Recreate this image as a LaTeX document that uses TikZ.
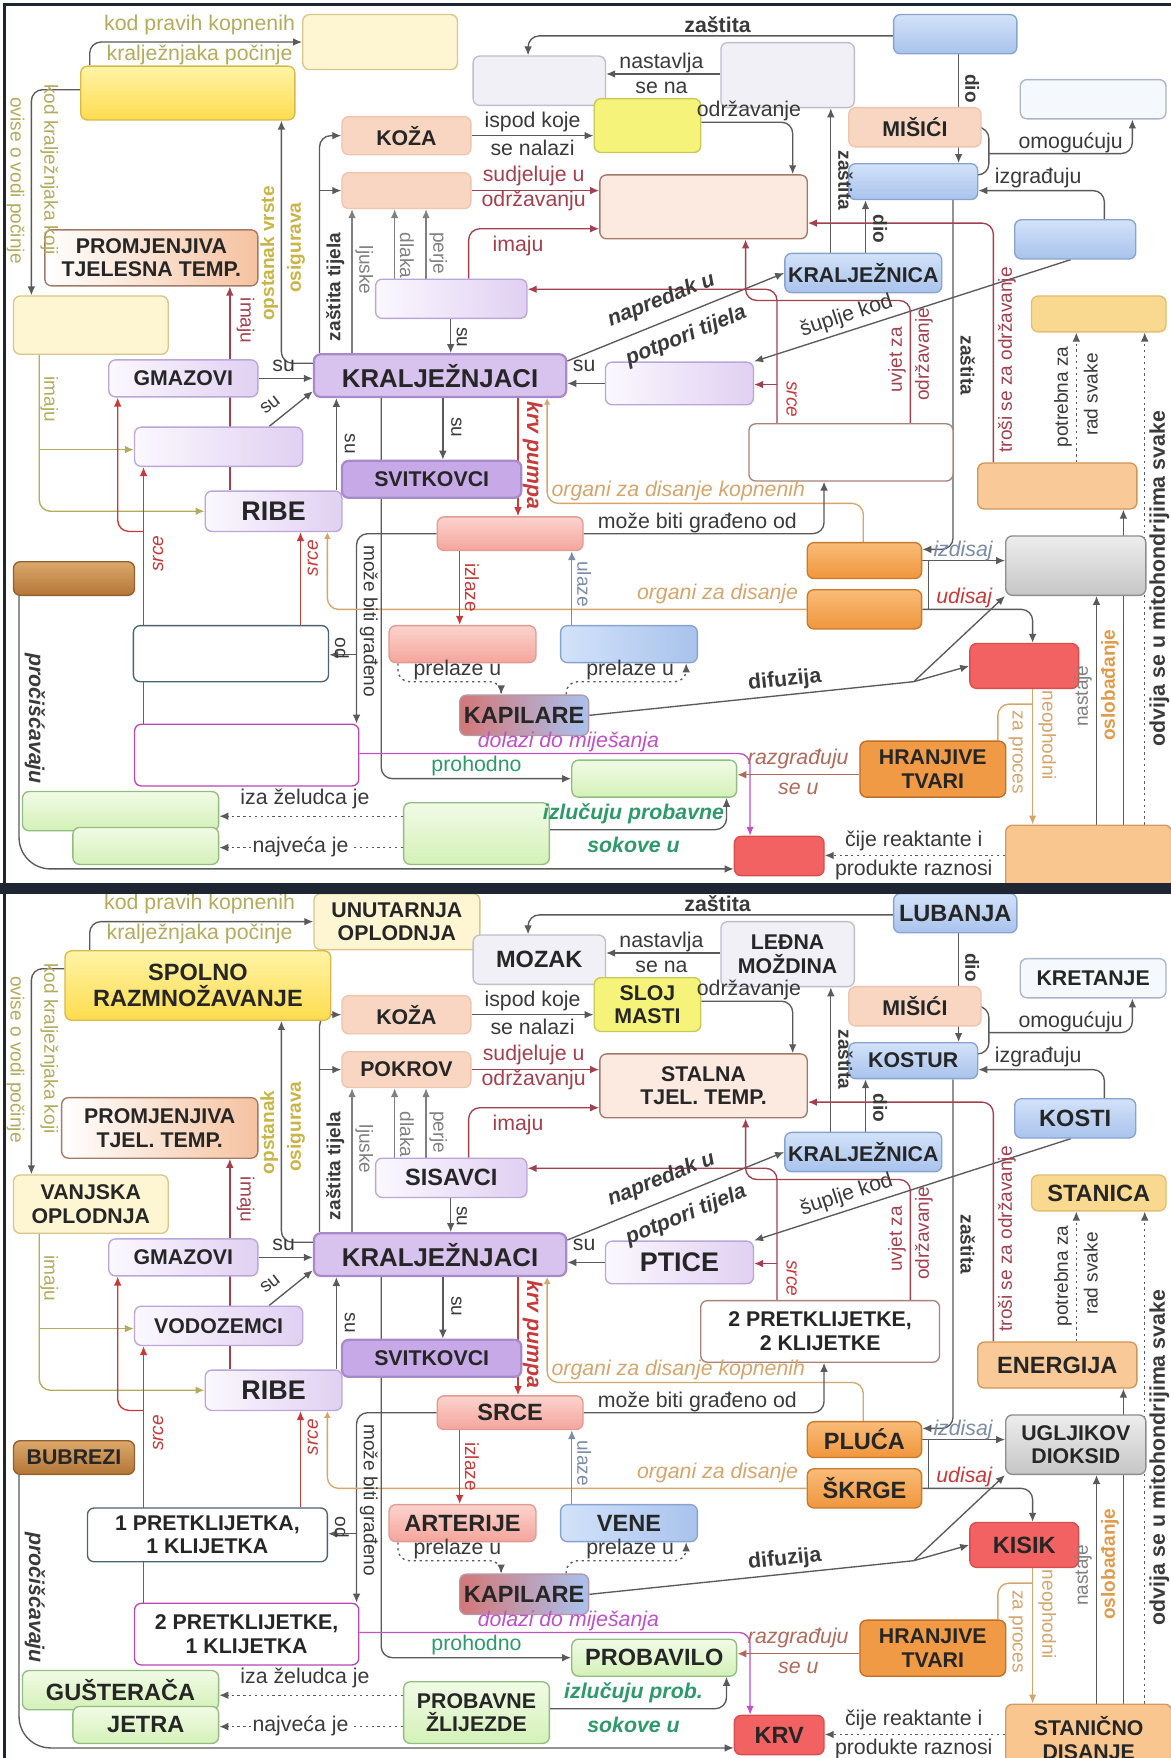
\documentclass[tikz,border=0pt]{standalone}
\usepackage{fontspec}
\setmainfont{Liberation Sans}
\usetikzlibrary{arrows.meta}

\definecolor{lineg}{HTML}{5A5A5A}
\definecolor{txt}{HTML}{3A3A3A}
\definecolor{olv}{HTML}{B5AB5C}
\definecolor{olvb}{HTML}{C9B446}
\definecolor{dred}{HTML}{A3404E}
\definecolor{rd}{HTML}{C83A3A}
\definecolor{tanl}{HTML}{D4A66E}
\definecolor{mag}{HTML}{C050C8}
\definecolor{grn}{HTML}{2E9A6A}
\definecolor{bgr}{HTML}{7A8CA8}
\definecolor{brn}{HTML}{B06A5A}
\definecolor{orn}{HTML}{E09A48}
\definecolor{frm}{HTML}{1E2633}
\definecolor{yelA}{HTML}{FFF4A6}
\definecolor{yelB}{HTML}{FDDC4E}
\definecolor{yelD}{HTML}{D9B84C}
\definecolor{ltyel}{HTML}{FEF5D2}
\definecolor{ltyelD}{HTML}{D8C68A}
\definecolor{lavA}{HTML}{FBF8FE}
\definecolor{lavB}{HTML}{E1D0F2}
\definecolor{lavD}{HTML}{BBA6D8}
\definecolor{purA}{HTML}{D8C3EF}
\definecolor{purB}{HTML}{C6A9E6}
\definecolor{purD}{HTML}{A88ACB}
\definecolor{grl}{HTML}{F0F0F6}
\definecolor{grlD}{HTML}{BEBECD}
\definecolor{bluA}{HTML}{D2E2F9}
\definecolor{bluB}{HTML}{A9C3EC}
\definecolor{bluD}{HTML}{88A3CF}
\definecolor{ltblu}{HTML}{F5F8FC}
\definecolor{ltbluD}{HTML}{AAB5C8}
\definecolor{pch}{HTML}{F8D6C2}
\definecolor{pchD}{HTML}{EDC5AE}
\definecolor{stl}{HTML}{FCEAE0}
\definecolor{stlD}{HTML}{A37A6A}
\definecolor{prmB}{HTML}{F5C2A0}
\definecolor{slj}{HTML}{F6F37A}
\definecolor{sljD}{HTML}{C9C956}
\definecolor{stc}{HTML}{F9D98F}
\definecolor{stcD}{HTML}{E4BE70}
\definecolor{slateD}{HTML}{4E6272}
\definecolor{magD}{HTML}{B848B8}
\definecolor{brnD}{HTML}{A88478}
\definecolor{enr}{HTML}{F9C997}
\definecolor{enrD}{HTML}{D49558}
\definecolor{pnkA}{HTML}{FBD3CD}
\definecolor{pnkB}{HTML}{F4A59C}
\definecolor{pnkD}{HTML}{E29B92}
\definecolor{orA}{HTML}{F9BC78}
\definecolor{orB}{HTML}{F0963C}
\definecolor{orD}{HTML}{C97A2C}
\definecolor{gyA}{HTML}{EDEDED}
\definecolor{gyB}{HTML}{C6C6C6}
\definecolor{gyD}{HTML}{8E8E8E}
\definecolor{buA}{HTML}{DCA86C}
\definecolor{buB}{HTML}{B37636}
\definecolor{buD}{HTML}{946030}
\definecolor{red1}{HTML}{F26262}
\definecolor{redD}{HTML}{DA4D4D}
\definecolor{kapA}{HTML}{D47676}
\definecolor{kapB}{HTML}{A9C2EF}
\definecolor{kapD}{HTML}{B49AA8}
\definecolor{grA}{HTML}{F1FBE6}
\definecolor{grB}{HTML}{D4F1B8}
\definecolor{grD}{HTML}{93BD80}
\definecolor{hrn}{HTML}{F19A46}
\definecolor{hrnD}{HTML}{BF6E2A}
\definecolor{scn}{HTML}{FAC68F}
\definecolor{scnD}{HTML}{D49B60}

\pgfdeclarelayer{bg}
\pgfsetlayers{bg,main}

\newif\ifemptymap
\newcommand\ans[1]{\ifemptymap\else#1\fi}
\newcommand\twoways[2]{\ifemptymap#1\else#2\fi}

\tikzset{
  bx/.style={rounded corners=3pt, line width=0.6pt, inner sep=1pt, align=center, text=black!85,
    font=\bfseries\fontsize{9.5}{10.5}\selectfont},
  big/.style={font=\bfseries\fontsize{10.5}{11.5}\selectfont},
  bigger/.style={font=\bfseries\fontsize{12}{13}\selectfont},
  bw/.style={minimum width=#1*0.5pt},
  bh/.style={minimum height=#1*0.5pt},
  yelbox/.style={bx, top color=yelA, bottom color=yelB, draw=yelD},
  lyelbox/.style={bx, fill=ltyel, draw=ltyelD},
  lavbox/.style={bx, left color=lavA, right color=lavB, draw=lavD},
  purbox/.style={bx, fill=purA, draw=purD, line width=1pt},
  pur2box/.style={bx, fill=purB, draw=purD, line width=1pt},
  grlbox/.style={bx, fill=grl, draw=grlD},
  blubox/.style={bx, top color=bluA, bottom color=bluB, draw=bluD},
  vnbox/.style={bx, left color=bluA, right color=bluB, draw=bluD},
  ltblubox/.style={bx, fill=ltblu, draw=ltbluD},
  pchbox/.style={bx, fill=pch, draw=pchD},
  stlbox/.style={bx, fill=stl, draw=stlD},
  prmbox/.style={bx, left color=white, right color=prmB, draw=stlD},
  sljbox/.style={bx, fill=slj, draw=sljD},
  stcbox/.style={bx, fill=stc, draw=stcD},
  brnbox/.style={bx, fill=white, draw=brnD},
  slbox/.style={bx, fill=white, draw=slateD},
  magbox/.style={bx, fill=white, draw=magD},
  enrbox/.style={bx, fill=enr, draw=enrD},
  pnkbox/.style={bx, top color=pnkA, bottom color=pnkB, draw=pnkD},
  orbox/.style={bx, top color=orA, bottom color=orB, draw=orD},
  gybox/.style={bx, top color=gyA, bottom color=gyB, draw=gyD},
  bubox/.style={bx, top color=buA, bottom color=buB, draw=buD},
  redbox/.style={bx, fill=red1, draw=redD},
  kapbox/.style={bx, left color=kapA, right color=kapB, draw=kapD},
  grbox/.style={bx, top color=grA, bottom color=grB, draw=grD},
  hrnbox/.style={bx, fill=hrn, draw=hrnD},
  scnbox/.style={bx, fill=scn, draw=scnD},
  ln/.style={draw=lineg, line width=0.6pt, rounded corners=5pt},
  arr/.style={-{Latex[length=4pt,width=3.4pt]}},
  rarr/.style={{Latex[length=3pt,width=3pt]}-},
  dotln/.style={dash pattern=on 1pt off 1.6pt},
  lb/.style={inner sep=0.5pt, text=txt, font=\fontsize{9.5}{10.5}\selectfont},
  lbi/.style={lb, font=\fontsize{9.5}{10.5}\selectfont\itshape},
  lbb/.style={lb, font=\fontsize{9.5}{10.5}\selectfont\bfseries},
  lbbi/.style={lb, font=\fontsize{9.5}{10.5}\selectfont\bfseries\itshape},
  vl/.style={lb, font=\fontsize{8.5}{9.5}\selectfont},
  vli/.style={lb, font=\fontsize{8.5}{9.5}\selectfont\itshape},
  vlb/.style={lb, font=\fontsize{8.5}{9.5}\selectfont\bfseries},
}

% one concept map; drawn twice (empty and filled in)
\newcommand\conceptmap{%
\ifemptymap
\node[lyelbox, bw=138, bh=49] (unut) at (339,821.5) {};
\node[yelbox, bw=191, bh=48] (spolno) at (167.5,867) {};
\node[prmbox, bw=190, bh=50] (promj) at (135,1014) {PROMJENJIVA\\TJELESNA TEMP.};
\node[brnbox, bw=182, bh=51] (dvadva) at (759,1187.5) {};
\node[slbox, bw=174, bh=50] (jedanjedan) at (206,1367) {};
\else
\node[lyelbox, bw=148, bh=50] (unut) at (354,822) {UNUTARNJA\\OPLODNJA};
\node[yelbox, big, bw=237, bh=62] (spolno) at (176.5,879) {SPOLNO\\RAZMNOŽAVANJE};
\node[prmbox, bw=175, bh=54] (promj) at (142.5,1006) {PROMJENJIVA\\TJEL. TEMP.};
\node[brnbox, bw=213, bh=55] (dvadva) at (731.5,1187.5) {2 PRETKLIJETKE,\\2 KLIJETKE};
\node[slbox, bw=214, bh=48] (jedanjedan) at (185,1369) {1 PRETKLIJETKA,\\1 KLIJETKA};
\fi
\node[grlbox, big, bw=118, bh=44] (mozak) at (481,856) {\ans{MOZAK}};
\node[grlbox, bw=119, bh=58] (ledna) at (702.5,851) {\ans{LEĐNA\\MOŽDINA}};
\node[blubox, big, bw=110, bh=35] (lubanja) at (852,814.5) {\ans{LUBANJA}};
\node[ltblubox, bw=130, bh=35] (kretanje) at (975,872.5) {\ans{KRETANJE}};
\node[pchbox, bw=115, bh=34] (koza) at (362.5,905) {KOŽA};
\node[sljbox, bw=95, bh=48] (sloj) at (577.5,896) {\ans{SLOJ\\MASTI}};
\node[pchbox, bw=118, bh=35] (misici) at (816,897.5) {MIŠIĆI};
\node[pchbox, bw=115, bh=32] (pokrov) at (362.5,954) {\ans{POKROV}};
\node[stlbox, bw=185, bh=57] (stalna) at (627.5,968.5) {\ans{STALNA\\TJEL. TEMP.}};
\node[blubox, bw=115, bh=32] (kostur) at (814.5,946) {\ans{KOSTUR}};
\node[blubox, big, bw=108, bh=35] (kosti) at (959,997.5) {\ans{KOSTI}};
\node[lavbox, big, bw=135, bh=35] (sisavci) at (402.5,1050.5) {\ans{SISAVCI}};
\node[blubox, bw=140, bh=35] (kraljeznica) at (770,1027.5) {KRALJEŽNICA};
\node[lyelbox, bw=138, bh=52] (vanjska) at (81,1074) {\ans{VANJSKA\\OPLODNJA}};
\node[stcbox, big, bw=120, bh=32] (stanica) at (980,1064) {\ans{STANICA}};
\node[lavbox, bw=133, bh=33] (gmazovi) at (163.5,1121.5) {GMAZOVI};
\node[purbox, bw=225, bh=38, font=\bfseries\fontsize{11.5}{12.5}\selectfont] (kraljeznjaci) at (392.5,1119) {KRALJEŽNJACI};
\node[lavbox, bigger, bw=132, bh=38] (ptice) at (606,1126) {\ans{PTICE}};
\node[lavbox, bw=150, bh=35] (vodozemci) at (195,1182.5) {\ans{VODOZEMCI}};
\node[pur2box, bw=160, bh=33] (svitkovci) at (385,1211.5) {SVITKOVCI};
\node[lavbox, bigger, bw=122, bh=36] (ribe) at (244,1240) {RIBE};
\node[enrbox, big, bw=142, bh=41] (energija) at (943,1217.5) {\ans{ENERGIJA}};
\node[pnkbox, big, bw=130, bh=30] (srce) at (455,1260) {\ans{SRCE}};
\node[orbox, big, bw=102, bh=32] (pluca) at (771,1284) {\ans{PLUĆA}};
\node[gybox, bw=125, bh=53] (co2) at (959.5,1288.5) {\ans{UGLJIKOV\\DIOKSID}};
\node[bubox, bw=108, bh=30] (bubrezi) at (66,1300) {\ans{BUBREZI}};
\node[orbox, big, bw=102, bh=35] (skrge) at (771,1327.5) {\ans{ŠKRGE}};
\node[pnkbox, big, bw=131, bh=33] (arterije) at (412.5,1358.5) {\ans{ARTERIJE}};
\node[vnbox, big, bw=122, bh=33] (vene) at (561,1358.5) {\ans{VENE}};
\node[redbox, big, bw=97, bh=40] (kisik) at (913.5,1378) {\ans{KISIK}};
\node[kapbox, big, bw=115, bh=36] (kapilare) at (467.5,1422) {KAPILARE};
\node[magbox, bw=200, bh=55] (dvajedan) at (220,1457.5) {\ans{2 PRETKLIJETKE,\\1 KLIJETKA}};
\node[grbox, big, bw=147, bh=33] (probavilo) at (583.5,1478.5) {\ans{PROBAVILO}};
\node[hrnbox, bw=130, bh=50] (hranjive) at (832,1470) {HRANJIVE\\TVARI};
\node[grbox, big, bw=175, bh=35] (gusteraca) at (107.5,1507.5) {\ans{GUŠTERAČA}};
\node[grbox, big, bw=130, bh=33] (jetra) at (130,1538.5) {\ans{JETRA}};
\node[grbox, bw=130, bh=55] (probavne) at (425,1527.5) {\ans{PROBAVNE\\ŽLIJEZDE}};
\node[redbox, big, bw=80, bh=35] (krv) at (695,1547.5) {\ans{KRV}};
\node[scnbox, bw=148, bh=60] (stanicno) at (971,1550) {\ans{STANIČNO\\DISANJE}};

\begin{pgfonlayer}{bg}
\draw[ln,arr] (spolno.north -| 80,0) |- (unut.west);
\draw[ln,arr] (spolno.west |- 0,864) -| (vanjska.north -| 28,0);
\draw[ln,arr] (lubanja.west |- 0,816) -| (mozak.north -| 471,0);
\draw[ln,arr] (ledna.west |- 0,850) -- (mozak.east |- 0,850);
\draw[ln,arr] (lubanja.south -| 855,0) -- (kostur.north -| 855,0);
\draw[ln,arr] (kraljeznica.north -| 741,0) -- (ledna.south -| 741,0);
\draw[ln,arr] (kraljeznica.north -| 772,0) -- (kostur.south -| 772,0);
\draw[ln] (misici.east) -| (882,940) -- (kostur.east |- 0,940);
\draw[ln,arr] (882,921) -| (kretanje.south -| 1010,0);
\draw[ln,arr] (kosti.north -| 985,0) |- (kostur.east |- 0,954);
\draw[ln,arr] (sloj.east |- 0,893) -| (stalna.north -| 707,0);
\draw[ln,arr] (koza.east) -- (sloj.west |- koza.east);
\draw[ln,arr,draw=dred] (pokrov.east) -- (stalna.west |- pokrov.east);
\draw[ln,arr,draw=dred] (sisavci.north -| 418,0) |- (stalna.west |- 0,988);
\draw[ln,arr] (kraljeznjaci.west |- 0,1108) -| (spolno.south -| 251,0);
\draw[ln,arr] (kraljeznjaci.north -| 285,0) |- (koza.west);
\draw[ln,arr] (285,954) -- (pokrov.west);
\draw[ln,arr,draw=gray] (kraljeznjaci.north -| 314,0) -- (pokrov.south -| 314,0);
\draw[ln,arr,draw=gray] (sisavci.north -| 352,0) -- (pokrov.south -| 352,0);
\draw[ln,arr,draw=gray] (sisavci.north -| 380,0) -- (pokrov.south -| 380,0);
\draw[ln,arr,draw=dred] (ribe.north -| 205,0) -- (promj.south -| 205,0);
\draw[ln,arr,draw=olv] (vanjska.south -| 35,0) |- (ribe.west |- 0,1240);
\draw[ln,arr,draw=olv] (35,1185) -- (vodozemci.west |- 0,1185);
\draw[ln,arr] (gmazovi.east) -- (kraljeznjaci.west |- gmazovi.east);
\draw[ln,arr] (vodozemci.north -| 240,0) -- (kraljeznjaci.west |- 0,1133);
\draw[ln,arr] (ribe.north -| 300,0) -- (kraljeznjaci.south -| 300,0);
\draw[ln,arr] (sisavci.south -| 402,0) -- (kraljeznjaci.north -| 402,0);
\draw[ln,arr] (kraljeznjaci.south -| 395,0) -- (svitkovci.north -| 395,0);
\draw[ln,arr] (ptice.west) -- (kraljeznjaci.east |- ptice.west);
\draw[ln,arr] (kraljeznjaci.east |- 0,1106) -- (kraljeznica.west);
\draw[ln,arr] (kosti.south -| 955,0) -- (ptice.north east);
\draw[ln,arr,draw=dred] (dvadva.north -| 693,0) |- (sisavci.east |- 0,1042);
\draw[ln,arr,draw=dred] (693,1127) -- (ptice.east |- 0,1127);
\draw[ln,arr,draw=dred] (dvadva.north -| 812,0) |- (665,1052) -- (stalna.south -| 665,0);
\draw[ln,arr] (kostur.south -| 850,0) |- (pluca.east |- 0,1274);
\draw[ln,arr,draw=dred] (energija.north -| 886,0) |- (stalna.east |- 0,983);
\draw[ln,arr,dotln] (energija.north -| 960,0) -- (stanica.south -| 960,0);
\draw[ln,arr,dotln] (stanicno.north -| 1021,0) -- (stanica.south -| 1021,0);
\draw[ln,arr] (stanicno.north -| 1002,0) -- (energija.south -| 1002,0);
\draw[ln,arr] (stanicno.north -| 978,0) -- (co2.south -| 978,0);
\draw[ln,arr,draw=tanl] (kisik.south -| 921,0) -- (stanicno.north -| 921,0);
\draw[ln,draw=tanl] (hranjive.north -| 890,0) |- (921,1412);
\draw[ln,arr,draw=rd] (kraljeznjaci.south -| 462,0) -- (srce.north -| 462,0);
\draw[ln,rarr,draw=tanl] (kraljeznjaci.south -| 488,0) |- (770,1233) -- (pluca.north -| 770,0);
\draw[ln,arr] (srce.east) -| (dvadva.south -| 735,0);
\draw[ln,arr] (srce.west) -| (dvajedan.north -| 318,0);
\draw[ln,arr] (318,1368) -- (jedanjedan.east |- 0,1368);
\draw[ln,rarr,draw=tanl] (ribe.south -| 292,0) |- (skrge.west);
\draw[ln,arr] (kraljeznjaci.south -| 340,0) |- (probavilo.west);
\draw[ln,arr,draw=mag] (dvajedan.east |- 0,1456) -| (krv.north -| 669,0);
\draw[ln,arr,draw=brn] (hranjive.west |- 0,1475) -- (probavilo.east |- 0,1475);
\draw[ln,arr] (probavne.east |- 0,1524) -| (probavilo.south -| 648,0);
\draw[ln,arr,dotln] (probavne.west |- 0,1512) -- (gusteraca.east |- 0,1512);
\draw[ln,arr,dotln] (probavne.west |- 0,1540) -- (jetra.east |- 0,1540);
\draw[ln,arr,rounded corners=14pt] (bubrezi.south -| 17,0) |- (krv.west |- 0,1559);
\draw[ln,arr,dotln] (stanicno.west |- 0,1547) -- (krv.east |- 0,1547);
\coordinate (dif) at (815,1392);
\draw[ln] (kapilare.east) -- (dif);
\draw[ln,arr] (dif) -- (kisik.west);
\draw[ln,arr] (dif) -- (co2.south west);
\draw[ln,arr] (pluca.east) -- (co2.west |- pluca.east);
\draw[ln] (828,1284) -- (828,1327);
\draw[ln,arr] (skrge.east) -| (kisik.north -| 921,0);
\draw[ln,arr,draw=rd] (srce.south -| 410,0) -- (arterije.north -| 410,0);
\draw[ln,arr,draw=bgr] (vene.north -| 510,0) -- (srce.south -| 510,0);
\draw[ln,arr,dotln] (arterije.south -| 355,0) |- (447,1392) -- (kapilare.north -| 447,0);
\draw[ln,arr,dotln] (kapilare.north -| 505,0) |- (612,1392) -- (vene.south -| 612,0);
\draw[ln,arr,draw=rd] (dvajedan.north -| 128,0) -- (vodozemci.south -| 128,0);
\draw[ln,arr,draw=rd] (128,1258) -| (gmazovi.south -| 105,0);
\draw[ln,arr,draw=rd] (jedanjedan.north -| 268,0) -- (ribe.south -| 268,0);
\end{pgfonlayer}

% linking words
\node[lb, text=olv] (lkod1) at (178,806) {kod pravih kopnenih};
\node[lb, text=olv] (lkod2) at (178,833) {kralježnjaka počinje};
\node[vl, text=olv, rotate=-90] (lkod3) at (44,935) {kod kralježnjaka koji};
\node[vl, text=olv, rotate=-90] (lkod4) at (14,945) {ovise o vodi počinje};
\node[lbb] (lzas1) at (640,806) {zaštita};
\node[lb] (lnas1) at (590,840) {nastavlja};
\node[lb] (lnas2) at (590,862) {se na};
\node[vlb, rotate=-90] (ldio1) at (867,863) {dio};
\node[vlb, rotate=-90] (lzas2) at (754,945) {zaštita};
\node[vlb, rotate=-90] (ldio2) at (785,988) {dio};
\node[lb] (lomo) at (955,911) {omogućuju};
\node[lb] (lizg) at (926,943) {izgrađuju};
\node[lb] (lodr) at (668,883) {održavanje};
\node[lb] (lisp1) at (475,893) {ispod koje};
\node[lb] (lisp2) at (475,916) {se nalazi};
\node[lb, text=dred] (lsud1) at (476,941) {sudjeluje u};
\node[lb, text=dred] (lsud2) at (476,963) {održavanju};
\node[lb, text=dred] (limaju1) at (462,1003) {imaju};
\node[vlb, text=olvb, rotate=90] (lops1) at (240,1010) {\twoways{opstanak vrste}{opstanak}};
\node[vlb, text=olvb, rotate=90] (lops2) at (264,1005) {osigurava};
\node[vlb, rotate=90] (lzt) at (299,1040) {zaštita tijela};
\node[vl, text=gray, rotate=-90] (llju) at (325,1025) {ljuske};
\node[vl, text=gray, rotate=-90] (ldla) at (363,1012) {dlaka};
\node[vl, text=gray, rotate=-90] (lper) at (391,1010) {perje};
\node[vl, text=dred, rotate=-90] (limaju2) at (219,1070) {imaju};
\node[vl, text=olv, rotate=-90] (limaju3) at (44,1140) {imaju};
\node[lb] (lsu1) at (253,1110) {su};
\node[vl, rotate=38] (lsu2) at (241,1145) {su};
\node[vl, rotate=-90] (lsu3) at (312,1180) {su};
\node[vl, rotate=-90] (lsu4) at (412,1085) {su};
\node[vl, rotate=-90] (lsu5) at (407,1165) {su};
\node[lb] (lsu6) at (521,1110) {su};
\node[lbbi, rotate=22] (lnap1) at (590,1052) {napredak u};
\node[lbbi, rotate=22] (lnap2) at (612,1084) {potpori tijela};
\node[lb, rotate=18] (lsup) at (755,1066) {šuplje kod};
\node[vli, text=rd, rotate=-90] (lsrce1) at (706,1140) {srce};
\node[vl, text=dred, rotate=90] (luvj1) at (800,1105) {uvjet za};
\node[vl, text=dred, rotate=90] (luvj2) at (824,1100) {održavanje};
\node[vlb, rotate=-90] (lzas3) at (863,1110) {zaštita};
\node[vl, text=dred, rotate=90] (ltro) at (898,1105) {troši se za održavanje};
\node[vl, rotate=90] (lpot1) at (948,1138) {potrebna za};
\node[vl, rotate=90] (lpot2) at (973,1136) {rad svake};
\node[vlb, font=\fontsize{9.5}{10}\selectfont\bfseries, rotate=90] (lodv) at (1034,1300) {odvija se u mitohondrijima svake};
\node[lbbi, text=rd, rotate=-90] (lkrv) at (475,1190) {krv pumpa};
\node[lbi, text=tanl] (lorg1) at (605,1222) {organi za disanje kopnenih};
\node[lb] (lmoz1) at (622,1250) {može biti građeno od};
\node[lbi, text=bgr] (lizd) at (859,1275) {izdisaj};
\node[lbi, text=rd] (ludi) at (860,1317) {udisaj};
\node[lbi, text=tanl] (lorg2) at (640,1314) {organi za disanje};
\node[vli, text=rd, rotate=90] (lsrce2) at (141,1278) {srce};
\node[vli, text=rd, rotate=90] (lsrce3) at (279,1282) {srce};
\node[vl, rotate=-90] (lmoz2) at (329,1338) {može biti građeno};
\node[vl, rotate=-90] (lod) at (305,1362) {od};
\node[vl, text=rd, rotate=-90] (liz) at (421,1308) {izlaze};
\node[vl, text=bgr, rotate=-90] (lul) at (521,1305) {ulaze};
\node[lb] (lpre1) at (408,1382) {prelaze u};
\node[lb] (lpre2) at (562,1382) {prelaze u};
\node[lbb, rotate=6] (ldif) at (700,1391) {difuzija};
\node[vl, text=tanl, rotate=-90] (lzap) at (906,1455) {za proces};
\node[vl, text=tanl, rotate=-90] (lneo) at (934,1440) {neophodni};
\node[vl, text=gray, rotate=90] (lnst) at (966,1405) {nastaje};
\node[vlb, text=orn, rotate=90] (losl) at (990,1395) {oslobađanje};
\node[lbi, text=mag] (ldol) at (507,1446) {dolazi do miješanja};
\node[lb, text=grn] (lpro) at (425,1467) {prohodno};
\node[lbi, text=brn] (lraz1) at (712,1461) {razgrađuju};
\node[lbi, text=brn] (lraz2) at (712,1488) {se u};
\node[lbbi, text=grn] (lizl1) at (565,1510) {\twoways{izlučuju probavne}{izlučuju prob.}};
\node[lbbi, text=grn] (lizl2) at (565,1538) {sokove u};
\node[lb] (liza) at (272,1497) {iza želudca je};
\node[lb, fill=white] (lnaj) at (268,1539) {najveća je};
\node[lb] (lcij1) at (815,1534) {čije reaktante i};
\node[lb] (lcij2) at (815,1560) {produkte raznosi};
\node[lbbi, rotate=-90] (lpci) at (31,1425) {pročišćavaju};
}

\begin{document}
\begin{tikzpicture}[x=0.5pt, y=-0.5pt]
\useasboundingbox (0,0) rectangle (1044,1568);
\begin{pgfonlayer}{bg}
\fill[white] (0,0) rectangle (1044,1568);
\end{pgfonlayer}

% upper map: only some concepts given
\emptymaptrue
\begin{scope}[shift={(0,-784)}, name prefix=t-]
\conceptmap
\end{scope}

% lower map: all concepts filled in
\emptymapfalse
\begin{scope}[name prefix=b-]
\conceptmap
\end{scope}

\draw[frm, line width=1.5pt] (4,4) rectangle (1070,790);
\fill[frm] (0,788) rectangle (1044,797);
\draw[frm, line width=1.5pt] (4,796) -- (4,1580);
\end{tikzpicture}
\end{document}
